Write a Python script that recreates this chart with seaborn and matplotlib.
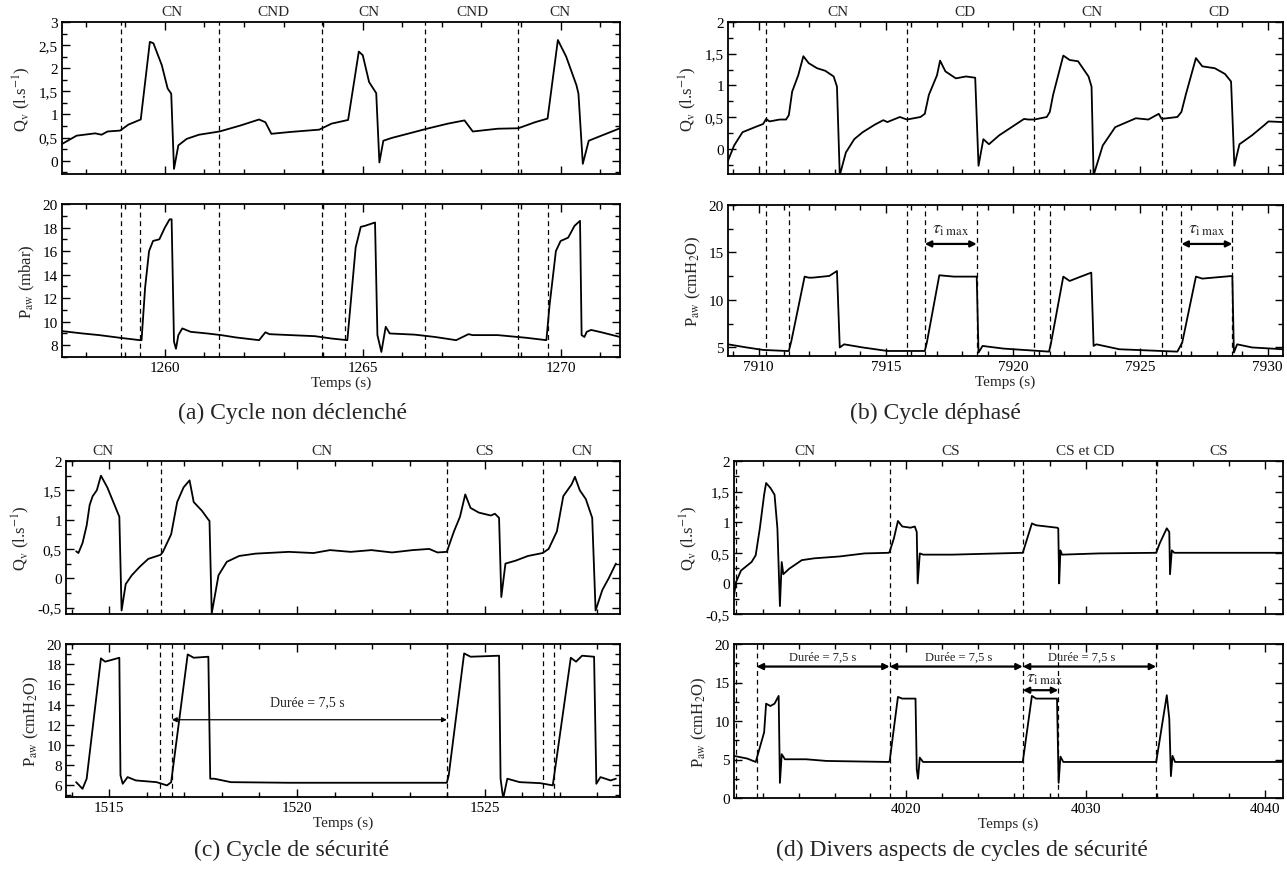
import matplotlib
matplotlib.use("Agg")
import matplotlib.pyplot as plt
import matplotlib.transforms as mtransforms
from matplotlib.ticker import MultipleLocator, FuncFormatter
import pandas as pd
import seaborn as sns

# ---------------- data ----------------
# (a) Cycle non declenche
QA_T = [1257.4, 1257.77, 1258.24, 1258.4, 1258.55, 1258.87, 1259.08, 1259.39, 1259.62, 1259.71,
        1259.92, 1260.07, 1260.16, 1260.23, 1260.34, 1260.55, 1260.86, 1261.38, 1261.91, 1262.38,
        1262.54, 1262.69, 1263.17, 1263.9, 1264.21, 1264.63, 1264.9, 1265.0, 1265.16, 1265.34,
        1265.42, 1265.52, 1265.73, 1266.31, 1266.62, 1267.15, 1267.57, 1267.78, 1268.41, 1268.93,
        1269.35, 1269.67, 1269.93, 1270.14, 1270.4, 1270.45, 1270.56, 1270.71, 1271.03, 1271.5]
QA_V = [0.36, 0.54, 0.59, 0.56, 0.63, 0.65, 0.78, 0.89, 2.57, 2.54,
        2.07, 1.56, 1.45, -0.18, 0.33, 0.47, 0.56, 0.63, 0.76, 0.89,
        0.83, 0.58, 0.62, 0.67, 0.80, 0.88, 2.36, 2.28, 1.70, 1.46,
        -0.04, 0.43, 0.49, 0.62, 0.69, 0.80, 0.87, 0.63, 0.69, 0.70,
        0.83, 0.91, 2.61, 2.25, 1.63, 1.45, -0.07, 0.43, 0.54, 0.70]
PA_T = [1257.4, 1257.92, 1258.34, 1258.87, 1259.37, 1259.41, 1259.5, 1259.6, 1259.7, 1259.86,
        1260.0, 1260.12, 1260.17, 1260.23, 1260.28, 1260.34, 1260.44, 1260.65, 1261.07, 1261.42,
        1261.80, 1262.38, 1262.54, 1262.64, 1263.17, 1263.79, 1264.21, 1264.61, 1264.69, 1264.82,
        1264.95, 1265.05, 1265.31, 1265.37, 1265.47, 1265.58, 1265.68, 1266.31, 1266.83, 1267.36,
        1267.67, 1267.78, 1268.41, 1269.14, 1269.64, 1269.72, 1269.88, 1270.0, 1270.19, 1270.35,
        1270.49, 1270.53, 1270.6, 1270.66, 1270.77, 1271.03, 1271.5]
PA_V = [9.2, 9.0, 8.86, 8.63, 8.43, 8.43, 12.9, 16.0, 16.86, 17.0,
        18.0, 18.7, 18.7, 8.3, 7.7, 8.86, 9.43, 9.14, 9.0, 8.86,
        8.66, 8.43, 9.1, 8.94, 8.86, 8.77, 8.57, 8.43, 11.4, 16.3,
        18.06, 18.14, 18.43, 8.86, 7.43, 9.57, 9.0, 8.9, 8.7, 8.43,
        8.94, 8.86, 8.86, 8.63, 8.43, 11.4, 16.0, 16.86, 17.14, 18.14,
        18.57, 8.86, 8.7, 9.14, 9.3, 9.1, 8.7]
A_TOP_LINES = [1258.88, 1261.37, 1263.97, 1266.56, 1268.93]
A_BOT_LINES = [1258.88, 1259.38, 1261.37, 1263.97, 1264.55, 1266.56, 1268.93, 1269.67]
A_LABELS = ["CN", "CND", "CN", "CND", "CN"]
A_LABEL_T = [1260.18, 1262.75, 1265.16, 1267.78, 1269.98]

# (b) Cycle dephase
QB_T = [7908.8, 7909.04, 7909.37, 7909.86, 7910.18, 7910.3, 7910.43, 7910.83, 7911.08, 7911.19,
        7911.32, 7911.56, 7911.76, 7911.97, 7912.3, 7912.62, 7912.95, 7913.08, 7913.19, 7913.43,
        7913.76, 7914.09, 7914.57, 7914.9, 7915.06, 7915.55, 7915.83, 7916.36, 7916.53, 7916.69,
        7917.01, 7917.13, 7917.34, 7917.75, 7918.15, 7918.51, 7918.64, 7918.83, 7919.05, 7919.45,
        7919.94, 7920.43, 7920.59, 7920.83, 7921.32, 7921.44, 7921.57, 7921.97, 7922.22, 7922.55,
        7922.96, 7923.08, 7923.16, 7923.52, 7924.01, 7924.82, 7925.31, 7925.72, 7925.83, 7926.45,
        7926.61, 7926.78, 7927.18, 7927.43, 7927.92, 7928.32, 7928.56, 7928.69, 7928.89, 7929.38,
        7929.86, 7930.03, 7930.6]
QB_V = [-0.19, 0.05, 0.26, 0.34, 0.39, 0.47, 0.43, 0.46, 0.46, 0.53,
        0.90, 1.16, 1.46, 1.35, 1.27, 1.23, 1.14, 0.98, -0.42, -0.06,
        0.15, 0.26, 0.38, 0.45, 0.42, 0.50, 0.46, 0.50, 0.55, 0.85,
        1.16, 1.39, 1.22, 1.11, 1.14, 1.12, -0.27, 0.15, 0.07, 0.21,
        0.34, 0.47, 0.46, 0.46, 0.50, 0.58, 0.85, 1.47, 1.40, 1.38,
        1.14, 0.98, -0.42, 0.05, 0.34, 0.48, 0.46, 0.55, 0.47, 0.50,
        0.58, 0.85, 1.43, 1.30, 1.27, 1.18, 1.06, -0.27, 0.07, 0.21,
        0.37, 0.43, 0.42]
PB_T = [7908.8, 7909.53, 7910.18, 7911.08, 7911.19, 7911.29, 7911.81, 7911.97, 7912.13, 7912.78,
        7913.08, 7913.19, 7913.36, 7914.09, 7915.06, 7916.53, 7916.61, 7917.1, 7917.67, 7918.57,
        7918.64, 7918.8, 7919.62, 7921.41, 7921.49, 7921.97, 7922.22, 7922.55, 7923.07, 7923.16,
        7923.27, 7924.17, 7926.45, 7926.64, 7927.18, 7927.43, 7928.61, 7928.67, 7928.8, 7929.38,
        7930.6]
PB_V = [5.33, 5.0, 4.74, 4.63, 4.63, 5.7, 12.46, 12.35, 12.35, 12.53,
        13.05, 5.0, 5.33, 5.0, 4.63, 4.63, 5.5, 12.6, 12.46, 12.46,
        4.46, 5.16, 4.88, 4.56, 5.5, 12.46, 12.0, 12.35, 12.88, 5.16,
        5.33, 4.81, 4.56, 5.5, 12.46, 12.25, 12.53, 4.46, 5.33, 5.0,
        4.81]
B_TOP_LINES = [7910.3, 7915.83, 7920.83, 7925.83]
B_BOT_LINES = [7910.3, 7911.19, 7915.83, 7916.53, 7918.57, 7920.83, 7921.44, 7925.83, 7926.61, 7928.61]
B_LABELS = ["CN", "CD", "CN", "CD"]
B_LABEL_T = [7913.1, 7918.1, 7923.1, 7928.1]
B_TAU = [(7916.53, 7918.57), (7926.61, 7928.61)]

# (c) Cycle de securite
QC_T = [1514.12, 1514.18, 1514.29, 1514.40, 1514.48, 1514.56, 1514.67, 1514.78, 1514.95, 1515.11,
        1515.27, 1515.33, 1515.44, 1515.60, 1515.82, 1516.04, 1516.37, 1516.43, 1516.54, 1516.65,
        1516.81, 1516.98, 1517.14, 1517.25, 1517.47, 1517.64, 1517.67, 1517.73, 1517.91, 1518.13,
        1518.46, 1518.90, 1519.78, 1520.44, 1520.88, 1521.43, 1521.98, 1522.53, 1523.08, 1523.52,
        1523.74, 1523.99, 1524.07, 1524.18, 1524.34, 1524.48, 1524.62, 1524.84, 1525.16, 1525.27,
        1525.38, 1525.44, 1525.55, 1525.82, 1526.15, 1526.54, 1526.70, 1526.92, 1527.09, 1527.31,
        1527.40, 1527.53, 1527.69, 1527.86, 1527.95, 1528.13, 1528.30, 1528.49]
QC_V = [0.46, 0.43, 0.60, 0.90, 1.25, 1.40, 1.50, 1.75, 1.55, 1.30,
        1.05, -0.55, -0.10, 0.05, 0.20, 0.33, 0.40, 0.45, 0.60, 0.75,
        1.30, 1.55, 1.67, 1.30, 1.15, 1.00, 0.98, -0.60, 0.05, 0.28,
        0.38, 0.42, 0.45, 0.43, 0.48, 0.45, 0.48, 0.44, 0.48, 0.50,
        0.44, 0.45, 0.60, 0.80, 1.05, 1.43, 1.20, 1.12, 1.07, 1.10,
        1.03, -0.32, 0.25, 0.30, 0.38, 0.43, 0.50, 0.80, 1.40, 1.60,
        1.73, 1.50, 1.35, 1.03, -0.55, -0.20, 0.00, 0.25]
PC_T = [1514.12, 1514.29, 1514.40, 1514.78, 1514.89, 1515.05, 1515.27, 1515.30, 1515.36, 1515.49,
        1515.71, 1516.26, 1516.54, 1516.65, 1517.09, 1517.25, 1517.64, 1517.69, 1517.80, 1518.24,
        1519.78, 1523.99, 1524.04, 1524.45, 1524.62, 1525.38, 1525.42, 1525.49, 1525.60, 1525.93,
        1526.48, 1526.81, 1527.29, 1527.43, 1527.59, 1527.91, 1527.97, 1528.08, 1528.35, 1528.49]
PC_V = [6.32, 5.66, 6.66, 18.58, 18.25, 18.41, 18.64, 7.0, 6.16, 6.82,
        6.49, 6.32, 6.0, 6.32, 18.97, 18.64, 18.74, 6.66, 6.66, 6.32,
        6.26, 6.26, 7.0, 19.07, 18.74, 18.84, 6.66, 4.7, 6.66, 6.32,
        6.22, 6.0, 18.64, 18.25, 18.84, 18.74, 6.16, 6.82, 6.49, 6.66]
C_TOP_LINES = [1516.37, 1523.99, 1526.54]
C_BOT_LINES = [1516.35, 1516.67, 1523.99, 1526.54, 1526.84]
C_LABELS = ["CN", "CN", "CS", "CN"]
C_LABEL_T = [1514.84, 1520.66, 1525.0, 1527.58]
C_DUREE = (1516.67, 1523.99)

# (d) Divers aspects de cycles de securite
QD_T = [4010.39, 4010.5, 4010.78, 4011.37, 4011.60, 4011.83, 4012.07, 4012.18, 4012.42, 4012.65,
        4012.81, 4012.95, 4013.05, 4013.14, 4013.47, 4014.17, 4014.87, 4016.27, 4017.67, 4019.02,
        4019.07, 4019.30, 4019.53, 4019.77, 4020.23, 4020.47, 4020.58, 4020.63, 4020.75, 4020.93,
        4022.57, 4026.49, 4026.65, 4027.0, 4027.23, 4028.40, 4028.47, 4028.52, 4028.59, 4028.68,
        4030.74, 4033.93, 4034.12, 4034.52, 4034.66, 4034.70, 4034.80, 4034.94, 4041.0]
QD_V = [-0.20, 0.02, 0.21, 0.35, 0.46, 0.90, 1.45, 1.64, 1.56, 1.45,
        0.90, -0.37, 0.35, 0.15, 0.24, 0.38, 0.41, 0.44, 0.49, 0.50,
        0.52, 0.73, 1.02, 0.93, 0.91, 0.93, 0.84, 0.0, 0.49, 0.47,
        0.47, 0.50, 0.65, 0.98, 0.95, 0.91, 0.90, 0.0, 0.54, 0.47,
        0.49, 0.50, 0.65, 0.90, 0.84, 0.15, 0.54, 0.50, 0.50]
PD_T = [4010.39, 4011.13, 4011.60, 4012.07, 4012.18, 4012.42, 4012.65, 4012.88, 4012.95, 4013.05,
        4013.23, 4014.40, 4015.57, 4019.02, 4019.07, 4019.53, 4019.77, 4020.51, 4020.58, 4020.65,
        4020.75, 4020.93, 4023.73, 4026.49, 4027.0, 4027.23, 4028.40, 4028.49, 4028.59, 4028.75,
        4033.93, 4034.52, 4034.66, 4034.75, 4034.84, 4034.98, 4041.0]
PD_V = [5.47, 5.12, 4.68, 8.53, 12.25, 11.95, 12.25, 13.26, 1.97, 5.69,
        5.03, 5.03, 4.81, 4.68, 4.81, 13.13, 12.91, 12.91, 3.72, 2.5,
        5.25, 4.68, 4.68, 4.68, 13.26, 12.91, 12.91, 1.97, 5.38, 4.68,
        4.68, 13.35, 10.28, 2.84, 5.47, 4.68, 4.68]
D_TOP_LINES = [4010.5, 4019.07, 4026.49, 4033.93]
D_BOT_LINES = [4010.5, 4011.65, 4019.07, 4026.49, 4028.47, 4033.93]
D_LABELS = ["CN", "CS", "CS et CD", "CS"]
D_LABEL_T = [4014.35, 4022.45, 4029.99, 4037.39]
D_DUREE = [(4011.65, 4019.07), (4019.07, 4026.49), (4026.49, 4033.93)]
D_DUREE_TXT_T = [4015.33, 4022.92, 4029.8]
D_TAU = (4026.49, 4028.47)

CAPTIONS = ["(a) Cycle non déclenché", "(b) Cycle déphasé",
            "(c) Cycle de sécurité", "(d) Divers aspects de cycles de sécurité"]

# ---------------- style ----------------
sns.set_style("ticks")
plt.rcParams["font.family"] = ["Liberation Serif", "DejaVu Serif"]
plt.rcParams["mathtext.fontset"] = "stix"

W, H = 1287, 870
fig = plt.figure(figsize=(W / 100, H / 100), dpi=100)


def add_ax(x0, x1, yt, yb):
    return fig.add_axes([x0 / W, 1 - yb / H, (x1 - x0) / W, (yb - yt) / H])


def comma_fmt(v, pos):
    s = "%g" % round(v, 3)
    if s == "-0":
        s = "0"
    return s.replace(".", ",")


def style(ax, xlim, ylim, xmaj, xmin, ymaj, ymin, comma=False, xlab=True):
    ax.set_xlim(*xlim)
    ax.set_ylim(*ylim)
    ax.xaxis.set_major_locator(MultipleLocator(xmaj))
    ax.xaxis.set_minor_locator(MultipleLocator(xmin))
    ax.yaxis.set_major_locator(MultipleLocator(ymaj))
    ax.yaxis.set_minor_locator(MultipleLocator(ymin))
    ax.xaxis.set_major_formatter(FuncFormatter(lambda v, p: "%d" % round(v)))
    if comma:
        ax.yaxis.set_major_formatter(FuncFormatter(comma_fmt))
    else:
        ax.yaxis.set_major_formatter(FuncFormatter(lambda v, p: "%d" % round(v)))
    ax.tick_params(which="both", direction="in", top=True, right=True,
                   labelsize=11, colors="black", pad=3)
    ax.tick_params(which="major", length=6, width=1.0)
    ax.tick_params(which="minor", length=3.5, width=1.0)
    if not xlab:
        ax.tick_params(axis="x", which="both", labelbottom=False)
    else:
        ax.set_xlabel("Temps (s)", fontsize=11, labelpad=1)
    for s in ax.spines.values():
        s.set_linewidth(1.3)
        s.set_color("black")
        s.set_visible(True)


def trace(ax, t, v):
    df = pd.DataFrame({"t": t, "v": v})
    sns.lineplot(data=df, x="t", y="v", ax=ax, color="black", lw=1.3,
                 estimator=None, sort=False)
    ax.set_xlabel("")
    ax.set_ylabel("")


def vlines(ax, ts):
    for t in ts:
        ax.axvline(t, color="black", lw=0.9, ls=(0, (4, 3)), zorder=1)


def top_labels(ax, labels, ts):
    tr = mtransforms.blended_transform_factory(ax.transData, ax.transAxes)
    for lab, t in zip(labels, ts):
        ax.text(t, 1.025, lab, transform=tr, ha="center", va="bottom", fontsize=11)


def darrow(ax, t0, t1, y, lw=1.6, ms=9):
    ax.annotate("", xy=(t1, y), xytext=(t0, y),
                arrowprops=dict(arrowstyle="<|-|>", color="black", lw=lw,
                                shrinkA=0, shrinkB=0, mutation_scale=ms))


QLAB = r"Q$_\mathrm{v}$ (l.s$^{\mathrm{-1}}$)"
PLAB_H2O = r"P$_\mathrm{aw}$ (cmH$_\mathrm{2}$O)"
PLAB_MBAR = r"P$_\mathrm{aw}$ (mbar)"

# ---------- (a) ----------
xl = (1257.4, 1271.5)
ax = add_ax(62, 620, 23, 175)
trace(ax, QA_T, QA_V)
vlines(ax, A_TOP_LINES)
style(ax, xl, (-0.29, 3.0), 5, 1, 0.5, 0.25, comma=True, xlab=False)
ax.set_ylabel(QLAB, fontsize=12)
top_labels(ax, A_LABELS, A_LABEL_T)

ax = add_ax(62, 620, 205, 358)
trace(ax, PA_T, PA_V)
vlines(ax, A_BOT_LINES)
style(ax, xl, (7.0, 20.0), 5, 1, 2, 1)
ax.set_xlabel("Temps (s)", fontsize=11, labelpad=1)
ax.set_ylabel(PLAB_MBAR, fontsize=12)

# ---------- (b) ----------
xl = (7908.8, 7930.6)
ax = add_ax(728, 1283, 23, 175)
trace(ax, QB_T, QB_V)
vlines(ax, B_TOP_LINES)
style(ax, xl, (-0.40, 2.0), 5, 1, 0.5, 0.25, comma=True, xlab=False)
ax.set_ylabel(QLAB, fontsize=12)
top_labels(ax, B_LABELS, B_LABEL_T)

ax = add_ax(728, 1283, 206, 357)
trace(ax, PB_T, PB_V)
vlines(ax, B_BOT_LINES)
style(ax, xl, (4.1, 20.0), 5, 1, 5, 2.5)
ax.set_xlabel("Temps (s)", fontsize=11, labelpad=1)
ax.set_ylabel(PLAB_H2O, fontsize=12)
for t0, t1 in B_TAU:
    darrow(ax, t0, t1, 15.9)
    ax.text((t0 + t1) / 2, 16.6, r"$\tau_{\mathrm{i\ max}}$", ha="center",
            va="bottom", fontsize=13)

# ---------- (c) ----------
xl = (1513.85, 1528.6)
ax = add_ax(66, 620, 462, 615)
trace(ax, QC_T, QC_V)
vlines(ax, C_TOP_LINES)
style(ax, xl, (-0.61, 2.0), 5, 1, 0.5, 0.25, comma=True, xlab=False)
ax.set_ylabel(QLAB, fontsize=12)
top_labels(ax, C_LABELS, C_LABEL_T)

ax = add_ax(66, 620, 645, 798)
trace(ax, PC_T, PC_V)
vlines(ax, C_BOT_LINES)
style(ax, xl, (4.85, 20.0), 5, 1, 2, 1)
ax.set_xlabel("Temps (s)", fontsize=11, labelpad=1)
ax.set_ylabel(PLAB_H2O, fontsize=12)
darrow(ax, C_DUREE[0], C_DUREE[1], 12.5, lw=0.9, ms=7)
ax.text(1520.27, 14.27, "Durée = 7,5 s", ha="center", va="center", fontsize=10)

# ---------- (d) ----------
xl = (4010.39, 4041.0)
ax = add_ax(734, 1283, 462, 615)
trace(ax, QD_T, QD_V)
vlines(ax, D_TOP_LINES)
style(ax, xl, (-0.5, 2.0), 10, 2, 0.5, 0.25, comma=True, xlab=False)
ax.set_ylabel(QLAB, fontsize=12)
top_labels(ax, D_LABELS, D_LABEL_T)

ax = add_ax(734, 1283, 645, 799)
trace(ax, PD_T, PD_V)
vlines(ax, D_BOT_LINES)
style(ax, xl, (0.0, 20.0), 10, 2, 5, 2.5)
ax.set_xlabel("Temps (s)", fontsize=11, labelpad=1)
ax.set_ylabel(PLAB_H2O, fontsize=12)
for (t0, t1), tt in zip(D_DUREE, D_DUREE_TXT_T):
    darrow(ax, t0, t1, 17.07)
    ax.text(tt, 18.4, "Durée = 7,5 s", ha="center", va="center", fontsize=9)
darrow(ax, D_TAU[0], D_TAU[1], 14.0)
ax.text(D_TAU[0] + 0.2, 14.6, r"$\tau_{\mathrm{i\ max}}$", ha="left",
        va="bottom", fontsize=13)

# ---------- captions ----------
for txt, (cx, cy) in zip(CAPTIONS, [(292, 413), (935, 413), (292, 850), (962, 850)]):
    fig.text(cx / W, 1 - cy / H, txt, ha="center", va="center", fontsize=17,
             family=["Liberation Serif", "DejaVu Serif"])

fig.savefig("out.png", dpi=100)
